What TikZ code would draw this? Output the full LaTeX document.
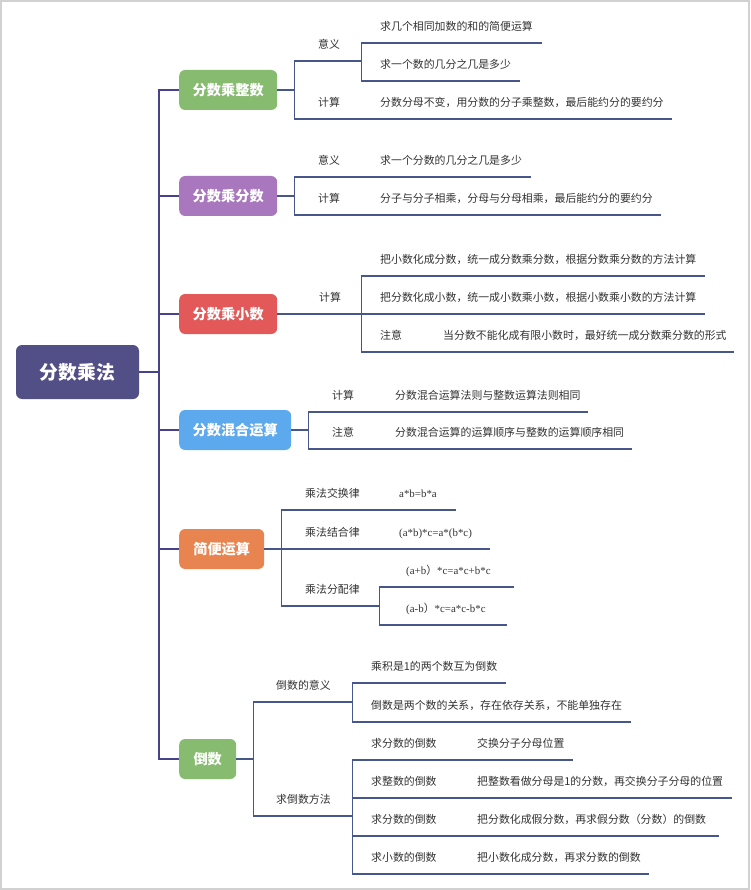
\documentclass[tikz,border=0pt]{standalone}
\usepackage{fontspec}
\setmainfont{Noto Sans CJK SC}
\newfontfamily\formfont{Liberation Serif}
\usetikzlibrary{calc, positioning}

\definecolor{rootfill}{HTML}{524E86}
\definecolor{greenfill}{HTML}{87BB70}
\definecolor{purplefill}{HTML}{A877BD}
\definecolor{redfill}{HTML}{E35959}
\definecolor{bluefill}{HTML}{5CA9EE}
\definecolor{orangefill}{HTML}{E88450}
\definecolor{trunkline}{HTML}{48428A}
\definecolor{twigline}{HTML}{47568B}
\definecolor{rowtext}{HTML}{333333}

\begin{document}
\begin{tikzpicture}[x=1pt, y=-1pt]
    \tikzstyle{topic}=[rounded corners=6pt, text=white, inner sep=0pt, anchor=west, minimum height=40pt, font=\fontsize{14.2}{16}\selectfont\bfseries]
    \tikzstyle{row}=[anchor=south west, inner sep=0pt, text depth=12.3pt, align=left, text=rowtext, font=\fontsize{10.9}{13}\selectfont]
    \tikzstyle{trunk}=[draw=trunkline, line width=1.5pt]
    \tikzstyle{twig}=[draw=twigline, line width=1.3pt]

    % Frame of the page
    \useasboundingbox (0,0) rectangle (750,890);
    \fill[white] (0,0) rectangle (750,890);
    \draw[black!18, line width=2pt] (1,1) rectangle (749,889);

    % Draw the root and the topics
    \node[topic, anchor=center, fill=rootfill, minimum width=123pt, minimum height=54pt, font=\fontsize{18.8}{20}\selectfont\bfseries] (root) at (77.5,372) {分数乘法};
    \node[topic, fill=greenfill, minimum width=98pt] (zs) at (179,90) {分数乘整数};
    \node[topic, fill=purplefill, minimum width=98pt] (fs) at (179,196) {分数乘分数};
    \node[topic, fill=redfill, minimum width=98pt] (xs) at (179,314) {分数乘小数};
    \node[topic, fill=bluefill, minimum width=112pt] (hh) at (179,430) {分数混合运算};
    \node[topic, fill=orangefill, minimum width=85pt] (jb) at (179,549) {简便运算};
    \node[topic, fill=greenfill, minimum width=57pt] (ds) at (179,759) {倒数};

    % Rows of 分数乘整数
    \node[row, text width=43pt] (zs-yy) at (318,61) {意义};
    \node[row, text width=162pt] (zs-yy1) at (380,43) {求几个相同加数的和的简便运算};
    \node[row, text width=140pt] (zs-yy2) at (380,81) {求一个数的几分之几是多少};
    \node[row, text width=43pt] (zs-js) at (318,119) {计算};
    \node[row, text width=292pt] (zs-js1) at (380,119) {分数分母不变，用分数的分子乘整数，最后能约分的要约分};

    % Rows of 分数乘分数
    \node[row, text width=43pt] (fs-yy) at (318,177) {意义};
    \node[row, text width=151pt] (fs-yy1) at (380,177) {求一个分数的几分之几是多少};
    \node[row, text width=43pt] (fs-js) at (318,215) {计算};
    \node[row, text width=281pt] (fs-js1) at (380,215) {分子与分子相乘，分母与分母相乘，最后能约分的要约分};

    % Rows of 分数乘小数
    \node[row, text width=42pt] (xs-js) at (319,314) {计算};
    \node[row, text width=325pt] (xs-js1) at (380,276) {把小数化成分数，统一成分数乘分数，根据分数乘分数的方法计算};
    \node[row, text width=325pt] (xs-js2) at (380,314) {把分数化成小数，统一成小数乘小数，根据小数乘小数的方法计算};
    \node[row, text width=50pt] (xs-zy) at (380,352) {注意};
    \node[row, text width=291pt] (xs-zy1) at (443,352) {当分数不能化成有限小数时，最好统一成分数乘分数的形式};

    % Rows of 分数混合运算
    \node[row, text width=48pt] (hh-js) at (332,412) {计算};
    \node[row, text width=193pt] (hh-js1) at (395,412) {分数混合运算法则与整数运算法则相同};
    \node[row, text width=48pt] (hh-zy) at (332,449) {注意};
    \node[row, text width=237pt] (hh-zy1) at (395,449) {分数混合运算的运算顺序与整数的运算顺序相同};

    % Rows of 简便运算
    \node[row, text width=74pt] (jb-jh) at (305,510) {乘法交换律};
    \node[row, text width=57pt] (jb-jh1) at (399,510) {\formfont a*b=b*a};
    \node[row, text width=74pt] (jb-jg) at (305,549) {乘法结合律};
    \node[row, text width=91pt] (jb-jg1) at (399,549) {\formfont (a*b)*c=a*(b*c)};
    \node[row, text width=74pt] (jb-fp) at (305,606) {乘法分配律};
    \node[row, text width=108pt] (jb-fp1) at (406,587) {{\formfont (a+b}）{\formfont *c=a*c+b*c}};
    \node[row, text width=101pt] (jb-fp2) at (406,625) {{\formfont (a-b}）{\formfont *c=a*c-b*c}};

    % Rows of 倒数
    \node[row, text width=76pt] (ds-yy) at (276,702) {倒数的意义};
    \node[row, text width=135pt] (ds-yy1) at (371,683) {乘积是1的两个数互为倒数};
    \node[row, text width=260pt] (ds-yy2) at (371,722) {倒数是两个数的关系，存在依存关系，不能单独存在};
    \node[row, text width=76pt] (ds-ff) at (276,816) {求倒数方法};
    \node[row, text width=89pt] (ds-f1) at (371,760) {求分数的倒数};
    \node[row, text width=96pt] (ds-f1a) at (477,760) {交换分子分母位置};
    \node[row, text width=89pt] (ds-f2) at (371,798) {求整数的倒数};
    \node[row, text width=255pt] (ds-f2a) at (477,798) {把整数看做分母是1的分数，再交换分子分母的位置};
    \node[row, text width=89pt] (ds-f3) at (371,836) {求分数的倒数};
    \node[row, text width=242pt] (ds-f3a) at (477,836) {把分数化成假分数，再求假分数（分数）的倒数};
    \node[row, text width=89pt] (ds-f4) at (371,874) {求小数的倒数};
    \node[row, text width=172pt] (ds-f4a) at (477,874) {把小数化成分数，再求分数的倒数};

    % Connect the root with every topic
    \foreach \t in {zs,fs,xs,hh,jb,ds}
    \draw[trunk] (root.east) -- ++(20,0) |- (\t.west);

    % Connect every topic with its rows
    \foreach \t/\r in {zs/zs-yy, zs/zs-js, fs/fs-yy, fs/fs-js, xs/xs-js, hh/hh-js, hh/hh-zy,
                      jb/jb-jh, jb/jb-jg, jb/jb-fp, ds/ds-yy, ds/ds-ff}
    \draw[twig] (\t.east) -- ++(17,0) |- (\r.south east);

    % Connect every row with the rows it carries
    \foreach \p/\c in {zs-yy/zs-yy1, zs-yy/zs-yy2, zs-js/zs-js1, fs-yy/fs-yy1, fs-js/fs-js1,
                      xs-js/xs-js1, xs-js/xs-js2, xs-js/xs-zy, xs-zy/xs-zy1, hh-js/hh-js1, hh-zy/hh-zy1,
                      jb-jh/jb-jh1, jb-jg/jb-jg1, jb-fp/jb-fp1, jb-fp/jb-fp2,
                      ds-yy/ds-yy1, ds-yy/ds-yy2, ds-ff/ds-f1, ds-ff/ds-f2, ds-ff/ds-f3, ds-ff/ds-f4,
                      ds-f1/ds-f1a, ds-f2/ds-f2a, ds-f3/ds-f3a, ds-f4/ds-f4a}
    \draw[twig] (\p.south east) |- (\c.south east);
\end{tikzpicture}
\end{document}
